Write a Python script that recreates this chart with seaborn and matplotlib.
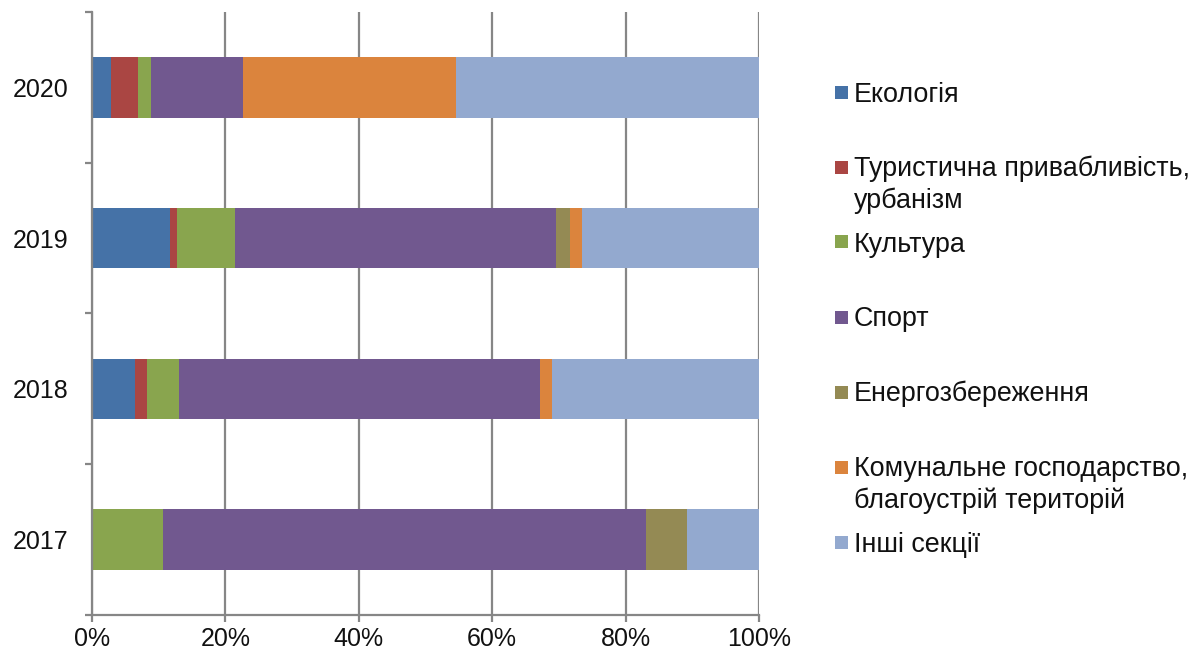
import numpy as np
import matplotlib
matplotlib.use("Agg")
import matplotlib.pyplot as plt
import seaborn as sns
from matplotlib.patches import Rectangle

# Share of funded projects by section, per year (percent)
years = ["2020", "2019", "2018", "2017"]
sections = [
    "Екологія",
    "Туристична привабливість,\nурбанізм",
    "Культура",
    "Спорт",
    "Енергозбереження",
    "Комунальне господарство,\nблагоустрій територій",
    "Інші секції",
]
ecology = [2.9, 11.7, 6.5, 0.0]
tourism = [4.0, 1.0, 1.7, 0.0]
culture = [1.9, 8.8, 4.8, 10.7]
sport = [13.8, 48.0, 54.2, 72.4]
energy = [0.0, 2.1, 0.0, 6.1]
communal = [31.9, 1.9, 1.7, 0.0]
other = [45.5, 26.5, 31.1, 10.8]
x_ticks = [0, 20, 40, 60, 80, 100]
x_labels = ["0%", "20%", "40%", "60%", "80%", "100%"]

colors = ["#4572A7", "#AA4643", "#89A54E", "#71588F", "#948A54", "#DB843D", "#93A9CF"]
grey = "#868686"

sns.set_theme(style="white")
plt.rcParams["font.family"] = ["Liberation Sans", "DejaVu Sans"]

W, H = 1196, 660
fig = plt.figure(figsize=(W / 100, H / 100), dpi=100)
ax = fig.add_axes([92 / W, 45 / H, 667 / W, 603 / H])

series = np.array([ecology, tourism, culture, sport, energy, communal, other])
cum = np.cumsum(series, axis=0)

# Stacked bars: draw cumulative totals from the outermost segment inwards
for i in reversed(range(len(sections))):
    sns.barplot(x=cum[i], y=years, order=years, orient="h", color=colors[i],
                saturation=1, width=0.4, linewidth=0, edgecolor="none", ax=ax)

ax.set_xlim(0, 100)
ax.set_ylim(3.5, -0.5)
ax.set_xlabel("")
ax.set_ylabel("")
ax.set_axisbelow(True)

ax.set_xticks(x_ticks)
ax.set_xticklabels(x_labels, fontsize=18, color="#111111")
ax.xaxis.grid(True, color=grey, linewidth=1.6)
ax.yaxis.grid(False)

ax.set_yticks(range(len(years)))
ax.set_yticklabels(years, fontsize=18, color="#111111")
ax.set_yticks(np.arange(-0.5, len(years), 1.0), minor=True)

ax.tick_params(axis="x", which="major", bottom=True, length=5, width=1.6,
               color=grey, pad=3.5, direction="out")
ax.tick_params(axis="y", which="major", left=True, length=0, pad=17)
ax.tick_params(axis="y", which="minor", left=True, length=5, width=1.6,
               color=grey, direction="out")

for side in ("top", "right"):
    ax.spines[side].set_visible(False)
for side in ("left", "bottom"):
    ax.spines[side].set_visible(True)
    ax.spines[side].set_color(grey)
    ax.spines[side].set_linewidth(1.6)

# Legend on the right, one entry per section
def fx(px):
    return px / W

def fy(py):
    return 1 - py / H

entry_y0 = 92
entry_step = 75
line_gap = 31
for i, (name, c) in enumerate(zip(sections, colors)):
    cy = entry_y0 + i * entry_step
    fig.add_artist(Rectangle((fx(835), fy(cy + 6.5)), 13 / W, 13 / H,
                             transform=fig.transFigure, facecolor=c,
                             edgecolor="none"))
    for k, line in enumerate(name.split("\n")):
        fig.text(fx(854), fy(cy + 9.5 + k * line_gap), line, fontsize=19.4,
                 color="#111111", ha="left", va="baseline")

fig.savefig("out.png", dpi=100)
